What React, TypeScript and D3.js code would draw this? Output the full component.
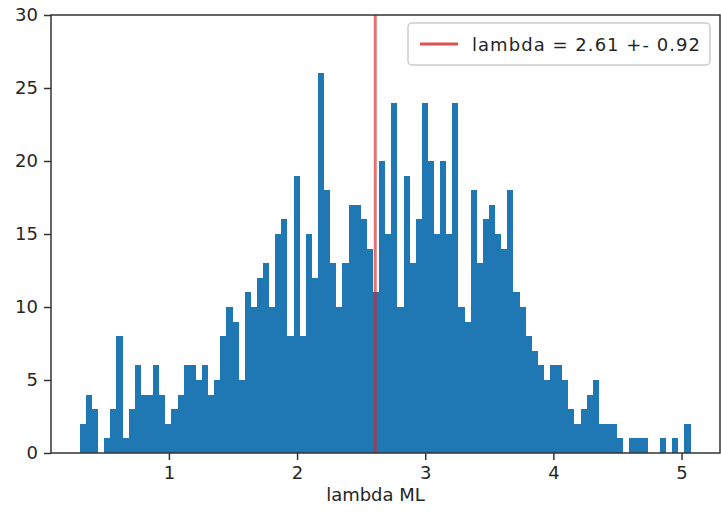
import React, { useRef, useEffect } from "react";
import * as d3 from "d3";

// histogram counts, 100 equal bins between binLo and binHi
const counts = [
  2, 4, 3, 0, 1, 3, 8, 1, 3, 6,
  4, 4, 6, 4, 2, 3, 4, 6, 6, 5,
  6, 4, 5, 8, 10, 9, 5, 11, 10, 12,
  13, 10, 15, 16, 8, 19, 8, 15, 12, 26,
  18, 13, 10, 13, 17, 17, 16, 14, 11, 20,
  15, 24, 10, 19, 13, 16, 24, 20, 15, 20,
  15, 24, 10, 9, 18, 13, 16, 17, 15, 14,
  18, 11, 10, 8, 7, 6, 5, 6, 6, 5,
  3, 2, 3, 4, 5, 2, 2, 2, 1, 0,
  1, 1, 1, 0, 0, 1, 0, 1, 0, 2,
];
const binLo = 0.305;
const binHi = 5.07;
const xTicks = [1, 2, 3, 4, 5];
const yTicks = [0, 5, 10, 15, 20, 25, 30];
const lambdaML = 2.61;
const legendLabel = "lambda = 2.61 +- 0.92";
const xLabel = "lambda ML";

const App = () => {
  const svgRef = useRef(null);

  useEffect(() => {
    const svg = d3.select(svgRef.current);
    svg.selectAll("*").remove();

    const left = 51;
    const right = 720;
    const top = 15;
    const bottom = 453;
    const font = "DejaVu Sans";
    const fs = 18;

    const x = d3.scaleLinear().domain([0.08, 5.3]).range([left, right]);
    const y = d3.scaleLinear().domain([0, 30]).range([bottom, top]);

    const step = (binHi - binLo) / counts.length;
    const bins = counts.map((c, i) => ({ x0: binLo + i * step, x1: binLo + (i + 1) * step, c }));

    svg
      .append("g")
      .selectAll("rect")
      .data(bins)
      .enter()
      .append("rect")
      .attr("x", (d) => x(d.x0))
      .attr("width", (d) => x(d.x1) - x(d.x0))
      .attr("y", (d) => y(d.c))
      .attr("height", (d) => y(0) - y(d.c))
      .attr("fill", "#1f77b4")
      .attr("shape-rendering", "crispEdges");

    svg
      .append("line")
      .attr("x1", x(lambdaML))
      .attr("x2", x(lambdaML))
      .attr("y1", top)
      .attr("y2", bottom)
      .attr("stroke", "#d62728")
      .attr("stroke-opacity", 0.65)
      .attr("stroke-width", 3);

    const fmt = d3.format("d");
    const xAxis = d3.axisBottom(x).tickValues(xTicks).tickFormat(fmt).tickSize(7).tickPadding(6).tickSizeOuter(0);
    const yAxis = d3.axisLeft(y).tickValues(yTicks).tickFormat(fmt).tickSize(7).tickPadding(6).tickSizeOuter(0);

    const gx = svg.append("g").attr("transform", "translate(0," + bottom + ")").call(xAxis);
    const gy = svg.append("g").attr("transform", "translate(" + left + ",0)").call(yAxis);
    [gx, gy].forEach((g) => {
      g.select(".domain").remove();
      g.selectAll("line").attr("stroke", "#333").attr("stroke-width", 1.5);
      g.selectAll("text")
        .attr("font-family", font)
        .attr("font-size", fs)
        .attr("fill", "#262626");
    });

    // spines
    svg
      .append("rect")
      .attr("x", left)
      .attr("y", top)
      .attr("width", right - left)
      .attr("height", bottom - top)
      .attr("fill", "none")
      .attr("stroke", "#333")
      .attr("stroke-width", 1.5);

    svg
      .append("text")
      .attr("x", (left + right) / 2 - 10)
      .attr("y", 501)
      .attr("text-anchor", "middle")
      .attr("font-family", font)
      .attr("font-size", fs)
      .attr("fill", "#262626")
      .text(xLabel);

    // legend
    const lg = svg.append("g").attr("transform", "translate(408,23)");
    lg.append("rect")
      .attr("width", 302)
      .attr("height", 42)
      .attr("rx", 4)
      .attr("fill", "#fff")
      .attr("fill-opacity", 0.8)
      .attr("stroke", "#ccc")
      .attr("stroke-width", 1.5);
    lg.append("line")
      .attr("x1", 12)
      .attr("x2", 50)
      .attr("y1", 21)
      .attr("y2", 21)
      .attr("stroke", "#d62728")
      .attr("stroke-opacity", 0.8)
      .attr("stroke-width", 3);
    lg.append("text")
      .attr("x", 64)
      .attr("y", 28)
      .attr("font-family", font)
      .attr("font-size", fs)
      .attr("textLength", 228)
      .attr("fill", "#262626")
      .text(legendLabel);
  }, []);

  return (
    <svg
      ref={svgRef}
      width={721}
      height={517}
      style={{ position: "absolute", left: 0, top: 0, background: "#fff" }}
    />
  );
};

export default App;
